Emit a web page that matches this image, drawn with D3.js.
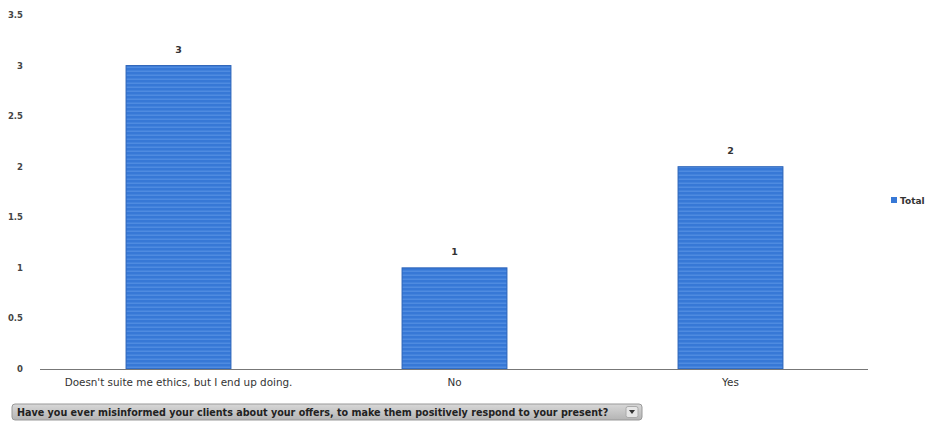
<!DOCTYPE html>
<html><head><meta charset="utf-8">
<script src="https://cdn.jsdelivr.net/npm/d3@7"></script>
<style>body{margin:0;background:#fff;} text{font-family:"DejaVu Sans",Verdana,sans-serif;}</style>
</head><body>
<svg id="c" width="930" height="425"></svg>
<script>
const categories = ["Doesn't suite me ethics, but I end up doing.", "No", "Yes"];
const values = [3, 1, 2];
const yTicks = [0, 0.5, 1, 1.5, 2, 2.5, 3, 3.5];
const seriesName = "Total";
const filterLabel = "Have you ever misinformed your clients about your offers, to make them positively respond to your present?";

(function(){
const svg = d3.select("#c");
const defs = svg.append("defs");
const pat = defs.append("pattern").attr("id","stripes").attr("width",8).attr("height",4).attr("patternUnits","userSpaceOnUse");
pat.append("rect").attr("width",8).attr("height",4).attr("fill","#3778d6");
pat.append("rect").attr("width",8).attr("height",1.5).attr("y",2.5).attr("fill","#4f8be0");

const mLeft = 40, mRight = 868, mTop = 15, mBottom = 369;
const x = d3.scaleBand().domain(categories).range([mLeft, mRight]).paddingInner(0.62).paddingOuter(0.31);
const y = d3.scaleLinear().domain([0, 3.5]).range([mBottom, mTop]);

svg.append("g").selectAll("text").data(yTicks).join("text")
  .attr("x", 23).attr("y", d => y(d) + 3)
  .attr("text-anchor","end").attr("font-size", 8.5).attr("font-weight","bold").attr("fill","#444")
  .text(d => d);

svg.append("g").selectAll("rect").data(values).join("rect")
  .attr("x", (d,i) => x(categories[i]) + 0.5).attr("y", d => y(d))
  .attr("width", x.bandwidth()).attr("height", d => y(0) - y(d))
  .attr("fill","url(#stripes)").attr("stroke","#2a62b8").attr("stroke-width",1);

svg.append("g").selectAll("text").data(values).join("text")
  .attr("x", (d,i) => x(categories[i]) + x.bandwidth()/2 + 0.5).attr("y", d => y(d) - 13)
  .attr("text-anchor","middle").attr("font-size", 9.5).attr("font-weight","bold").attr("fill","#333")
  .text(d => d);

svg.append("line").attr("x1", mLeft).attr("x2", mRight).attr("y1", mBottom+0.5).attr("y2", mBottom+0.5)
  .attr("stroke","#777").attr("stroke-width",1.2);

svg.append("g").selectAll("text").data(categories).join("text")
  .attr("x", d => x(d) + x.bandwidth()/2 + 0.5).attr("y", 386)
  .attr("text-anchor","middle").attr("font-size", 10.4).attr("fill","#333")
  .text(d => d);

svg.append("rect").attr("x", 891).attr("y", 197).attr("width", 6).attr("height", 6).attr("fill","#3778d6");
svg.append("text").attr("x", 900).attr("y", 203.5).attr("font-size", 9).attr("font-weight","bold").attr("fill","#333").text(seriesName);

const btn = svg.append("g");
const grad = defs.append("linearGradient").attr("id","btng").attr("x1",0).attr("x2",0).attr("y1",0).attr("y2",1);
grad.append("stop").attr("offset","0%").attr("stop-color","#d8d8d8");
grad.append("stop").attr("offset","100%").attr("stop-color","#b4b4b4");
btn.append("rect").attr("x", 12).attr("y", 404).attr("width", 630).attr("height", 16).attr("rx", 3)
  .attr("fill","url(#btng)").attr("stroke","#999");
btn.append("text").attr("x", 17).attr("y", 415.5).attr("font-size", 9.6).attr("font-weight","bold").attr("fill","#222").text(filterLabel);
btn.append("rect").attr("x", 626).attr("y", 406.5).attr("width", 12).attr("height", 11).attr("rx",2).attr("fill","#e6e6e6").attr("stroke","#aaa");
btn.append("path").attr("d","M629,410 L635,410 L632,414 Z").attr("fill","#333");
})();
</script>
</body></html>
